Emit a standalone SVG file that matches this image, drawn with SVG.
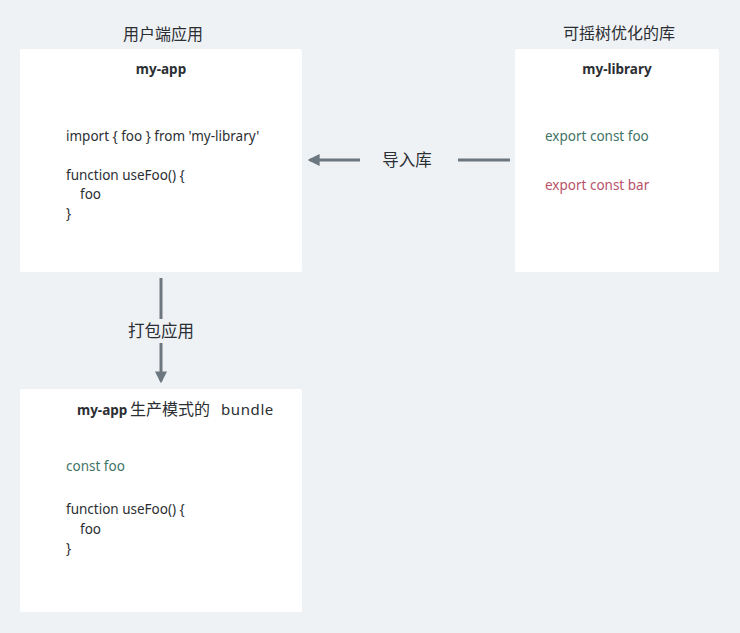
<svg xmlns="http://www.w3.org/2000/svg" width="740" height="633" viewBox="0 0 740 633">
<style>
text{font-family:"Noto Sans","Noto Sans CJK SC",sans-serif;fill:#2b2f33}
.box{fill:#ffffff}
.t{font-size:16px;text-anchor:middle}
.h{font-size:13.5px;font-weight:bold;text-anchor:middle}
.c{font-size:13.5px}
.g{fill:#3f7468}
.r{fill:#b8526a}
.conn{stroke:#6c777f;stroke-width:3;fill:none}
.lbl{font-size:16.5px;text-anchor:middle}
</style>
<defs>
<marker id="ah" viewBox="0 0 10 10" refX="8" refY="5" markerWidth="4" markerHeight="4" orient="auto-start-reverse">
<path d="M0,0 L10,5 L0,10 z" fill="#6c777f"/>
</marker>
</defs>
<rect x="0" y="0" width="740" height="633" fill="#eff2f5"/>
<text class="t" x="163" y="40">用户端应用</text>
<text class="t" x="619" y="39">可摇树优化的库</text>
<g id="my-app">
<rect class="box" x="20" y="49" width="282" height="223" rx="2"/>
<text class="h" x="161" y="74">my-app</text>
<text class="c" x="66" y="141">import { foo } from 'my-library'</text>
<text class="c" x="66" y="180">function useFoo() {</text>
<text class="c" x="80" y="199">foo</text>
<text class="c" x="66" y="218">}</text>
</g>
<g id="my-library">
<rect class="box" x="515" y="49" width="204" height="223" rx="2"/>
<text class="h" x="617" y="74">my-library</text>
<text class="c g" x="545" y="141">export const foo</text>
<text class="c r" x="545" y="190">export const bar</text>
</g>
<g id="bundle">
<rect class="box" x="20" y="389" width="282" height="223" rx="2"/>
<text x="77" y="415" style="font-size:13.5px"><tspan font-weight="bold">my-app</tspan><tspan x="130" style="font-size:16px">生产模式的</tspan><tspan x="221" style="font-size:15px" letter-spacing="0.6">bundle</tspan></text>
<text class="c g" x="66" y="471">const foo</text>
<text class="c" x="66" y="514">function useFoo() {</text>
<text class="c" x="80" y="534">foo</text>
<text class="c" x="66" y="553">}</text>
</g>
<g id="connectors">
<line class="conn" x1="510" y1="160" x2="458" y2="160"/>
<line class="conn" x1="360" y1="160" x2="310" y2="160" marker-end="url(#ah)"/>
<text class="lbl" x="407" y="166">导入库</text>
<line class="conn" x1="161" y1="278" x2="161" y2="319"/>
<line class="conn" x1="161" y1="343" x2="161" y2="381" marker-end="url(#ah)"/>
<text class="lbl" x="161" y="337">打包应用</text>
</g>
</svg>
